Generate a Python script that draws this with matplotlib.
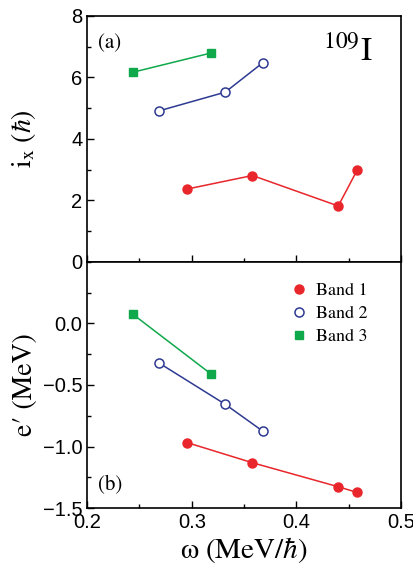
import matplotlib.pyplot as plt
from matplotlib.ticker import MultipleLocator

plt.rcParams['mathtext.fontset'] = 'stix'

# rotational frequency (MeV/hbar)
w_b1 = [0.2955, 0.358, 0.440, 0.458]
w_b2 = [0.2685, 0.332, 0.368]
w_b3 = [0.244, 0.318]

# aligned angular momentum i_x (hbar)
ix_b1 = [2.37, 2.81, 1.82, 2.98]
ix_b2 = [4.91, 5.52, 6.48]
ix_b3 = [6.17, 6.79]

# routhian e' (MeV)
e_b1 = [-0.968, -1.132, -1.327, -1.373]
e_b2 = [-0.32, -0.657, -0.876]
e_b3 = [0.073, -0.408]

band_names = ['Band 1', 'Band 2', 'Band 3']

red = '#e8262b'
blue = '#2e3a92'
green = '#0fa84b'

fig = plt.figure(figsize=(4.13, 5.67), dpi=100)
ax1 = fig.add_axes([0.211, 0.538, 0.760, 0.434])
ax2 = fig.add_axes([0.211, 0.104, 0.760, 0.434], sharex=ax1)

serif = 'STIXGeneral'

for ax in (ax1, ax2):
    ax.tick_params(which='both', direction='in', top=False, right=False,
                   labelsize=14.5, width=1.0)
    ax.tick_params(which='major', length=5)
    ax.tick_params(which='minor', length=3)
    for s in ax.spines.values():
        s.set_linewidth(1.2)

# top panel
ax1.plot(w_b1, ix_b1, '-', color=red, lw=1.1)
ax1.plot(w_b1, ix_b1, 'o', color=red, ms=6.5)
ax1.plot(w_b2, ix_b2, '-', color=blue, lw=1.1)
ax1.plot(w_b2, ix_b2, 'o', mfc='white', mec=blue, mew=1.1, ms=6.5)
ax1.plot(w_b3, ix_b3, '-', color=green, lw=1.1)
ax1.plot(w_b3, ix_b3, 's', color=green, ms=6)
ax1.set_ylim(0, 8)
ax1.yaxis.set_major_locator(MultipleLocator(2))
ax1.yaxis.set_minor_locator(MultipleLocator(1))
ax1.tick_params(labelbottom=False)
ax1.set_ylabel(r'$\mathrm{i_x}\ (\hbar)$', fontsize=20)
ax1.yaxis.set_label_coords(-0.155, 0.5)
ax1.text(0.035, 0.89, '(a)', transform=ax1.transAxes, family=serif,
         fontsize=15, va='center')
ax1.text(0.91, 0.855, r'$^{109}\mathrm{I}$', transform=ax1.transAxes,
         fontsize=24, ha='right', va='center')

# bottom panel
ax2.plot(w_b1, e_b1, '-', color=red, lw=1.1)
ax2.plot(w_b1, e_b1, 'o', color=red, ms=6.5, label=band_names[0])
ax2.plot(w_b2, e_b2, '-', color=blue, lw=1.1)
ax2.plot(w_b2, e_b2, 'o', mfc='white', mec=blue, mew=1.1, ms=6.5,
         label=band_names[1])
ax2.plot(w_b3, e_b3, '-', color=green, lw=1.1)
ax2.plot(w_b3, e_b3, 's', color=green, ms=6, label=band_names[2])
ax2.set_ylim(-1.5, 0.5)
ax2.set_xlim(0.2, 0.5)
ax2.yaxis.set_minor_locator(MultipleLocator(0.25))
ax2.xaxis.set_minor_locator(MultipleLocator(0.05))
ax2.set_yticks([-1.5, -1.0, -0.5, 0.0])
ax2.set_yticklabels(['\u22121.5', '\u22121.0', '\u22120.5', '0.0'])
ax2.set_xticks([0.2, 0.3, 0.4, 0.5])
ax2.set_xticklabels(['0.2', '0.3', '0.4', '0.5'])
for ax in (ax1, ax2):
    for lab in ax.get_xticklabels() + ax.get_yticklabels():
        lab.set_family('Liberation Sans')
ax2.set_ylabel('e\u2032 (MeV)', family=serif, fontsize=20)
ax2.yaxis.set_label_coords(-0.155, 0.5)
ax2.set_xlabel(r'$\mathrm{\omega}\ \mathrm{(MeV/}\hbar\mathrm{)}$', fontsize=21,
               labelpad=2)
ax2.text(0.035, 0.093, '(b)', transform=ax2.transAxes, family=serif,
         fontsize=15, va='center')
ax2.legend(loc='upper right', frameon=False, prop={'family': serif, 'size': 13},
           handlelength=0.6, handletextpad=0.6, labelspacing=0.35,
           borderaxespad=0.6, bbox_to_anchor=(0.95, 0.99))

fig.savefig('out.png', dpi=100)
